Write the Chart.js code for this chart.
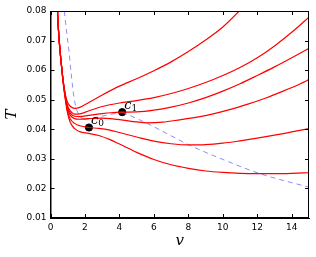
<!DOCTYPE html>
<html lang="en">
<head>
<meta charset="UTF-8">
<title>T(v)</title>
<script src="https://cdn.jsdelivr.net/npm/chart.js@4.4.0/dist/chart.umd.min.js"></script>
<style>
  html,body{margin:0;padding:0;background:#fff;}
  #chart{display:block;}
</style>
</head>
<body>
<canvas id="chart" width="316" height="257"></canvas>
<script>
// red curves
const v1=[0.36,0.42,0.5,0.6,0.7,0.8,0.9,1.0,1.15,1.4,1.7,2.2,3,4,5,6,7,8,9,10,11,11.5];
const t1=[0.088,0.078,0.0705,0.0638,0.0582,0.0538,0.0508,0.049,0.0478,0.0471,0.0474,0.049,0.0516,0.0546,0.0571,0.0598,0.0628,0.0663,0.0702,0.0746,0.0803,0.0835];

const v2=[0.36,0.42,0.5,0.6,0.7,0.8,0.9,1.0,1.15,1.4,1.7,2.2,3,4,5,6,7,8,9,10,11,12,13,14,15];
const t2=[0.088,0.078,0.0705,0.0638,0.0582,0.0536,0.0502,0.0478,0.0462,0.0451,0.0452,0.0462,0.0477,0.0489,0.0497,0.0507,0.0521,0.0538,0.0558,0.0582,0.0609,0.0642,0.0682,0.0728,0.0779];

const v3=[0.36,0.42,0.5,0.6,0.7,0.8,0.9,1.0,1.15,1.4,1.7,2.2,3,3.5,4.16,5,6,7,8,9,10,11,12,13,14,15];
const t3=[0.088,0.078,0.0705,0.0638,0.0581,0.0534,0.0498,0.0472,0.0455,0.0444,0.0443,0.0447,0.0453,0.0456,0.0458,0.0459,0.0465,0.0475,0.0489,0.0507,0.0529,0.0554,0.0582,0.0611,0.0642,0.0674];

const v4=[0.36,0.42,0.5,0.6,0.7,0.8,0.9,1.0,1.15,1.4,1.7,2.2,3,3.5,4.2,5,5.6,6.5,7.5,8.5,9.5,10.5,11.5,12.5,13.5,14.5,15];
const t4=[0.088,0.078,0.0704,0.0637,0.058,0.0532,0.0494,0.0466,0.0447,0.0436,0.0434,0.0436,0.0438,0.0436,0.0431,0.0425,0.0422,0.0424,0.0432,0.0441,0.0453,0.0468,0.0486,0.0506,0.0529,0.0554,0.0568];

const v5=[0.36,0.42,0.5,0.6,0.7,0.8,0.9,1.0,1.15,1.4,1.7,2.23,2.8,3.45,4,5,6,7,8,9,10,11,12,13,14,15];
const t5=[0.088,0.078,0.0703,0.0636,0.0578,0.053,0.049,0.0458,0.0435,0.042,0.0412,0.0406,0.0403,0.0397,0.0389,0.0374,0.036,0.0351,0.0347,0.0348,0.0353,0.0361,0.037,0.038,0.0391,0.0402];

const v6=[0.36,0.42,0.5,0.6,0.7,0.8,0.9,1.0,1.15,1.4,1.7,2.2,2.8,3.45,4,5,6,7,8,9,10,11,12,13,14,15];
const t6=[0.088,0.078,0.0702,0.0634,0.0576,0.0527,0.0485,0.0452,0.0423,0.0402,0.0392,0.0386,0.0379,0.0365,0.035,0.0322,0.0298,0.028,0.0268,0.0259,0.0254,0.0251,0.025,0.025,0.0251,0.0253];

// blue dashed curve, with the two corners where it turns
const dashV=[0.8,0.95,1.07,1.2,1.36,1.5,1.7,1.95,2.5,3.2,4.16,5.5,7,8,10,12.15,15];
const dashT=[0.08,0.0722,0.0665,0.0588,0.0509,0.047,0.0445,0.0433,0.0438,0.0447,0.0458,0.0423,0.0378,0.0348,0.0298,0.025,0.0204];
const dashBreaks=[7,10];

// marked points
const markV=[2.23,4.16];
const markT=[0.0406,0.0458];
const markSub=["0","1"];

const xTicks=[0,2,4,6,8,10,12,14];
const yTicks=[0.01,0.02,0.03,0.04,0.05,0.06,0.07,0.08];

function pts(xs,ys){ return xs.map((x,i)=>({x:x,y:ys[i]})); }

const redSets=[[v1,t1],[v2,t2],[v3,t3],[v4,t4],[v5,t5],[v6,t6]].map(([xs,ys])=>({
  data:pts(xs,ys),
  borderColor:'#ff0000',
  borderWidth:1.2,
  pointRadius:0,
  showLine:true,
  cubicInterpolationMode:'monotone'
}));

const cuts=[0,...dashBreaks,dashV.length-1];
const dashSets=[];
for(let i=0;i<cuts.length-1;i++){
  dashSets.push({
    data:pts(dashV.slice(cuts[i],cuts[i+1]+1),dashT.slice(cuts[i],cuts[i+1]+1)),
    borderColor:'rgba(120,120,255,0.85)',
    borderWidth:1,
    borderDash:[5,4],
    pointRadius:0,
    showLine:true,
    cubicInterpolationMode:'monotone'
  });
}

const markSet={
  data:pts(markV,markT),
  showLine:false,
  pointRadius:3.6,
  pointBackgroundColor:'#000',
  pointBorderColor:'#000'
};

// inward ticks on all four sides, plus the top and right frame
const framePlugin={
  id:'frame',
  afterDatasetsDraw(chart){
    const {ctx,chartArea:a,scales:{x,y}}=chart;
    ctx.save();
    ctx.strokeStyle='#000';
    ctx.lineWidth=1;
    ctx.beginPath();
    for(const t of xTicks){
      const px=Math.round(x.getPixelForValue(t))+0.5;
      ctx.moveTo(px,a.bottom); ctx.lineTo(px,a.bottom-4);
      ctx.moveTo(px,a.top); ctx.lineTo(px,a.top+4);
    }
    for(const t of yTicks){
      const py=Math.round(y.getPixelForValue(t))+0.5;
      ctx.moveTo(a.left,py); ctx.lineTo(a.left+4,py);
      ctx.moveTo(a.right,py); ctx.lineTo(a.right-4,py);
    }
    ctx.stroke();
    ctx.strokeRect(a.left+0.5,a.top+0.5,a.right-a.left-1,a.bottom-a.top-1);

    // c0, c1 labels
    ctx.fillStyle='#000';
    ctx.textBaseline='alphabetic';
    markV.forEach((mv,i)=>{
      const px=x.getPixelForValue(mv), py=y.getPixelForValue(markT[i]);
      ctx.font='italic 13px "DejaVu Serif"';
      ctx.fillText('c',px+2,py-3.5);
      const w=ctx.measureText('c').width;
      ctx.font='9px "DejaVu Serif"';
      ctx.fillText(markSub[i],px+2+w,py-1.5);
    });
    ctx.restore();
  }
};

new Chart(document.getElementById('chart'),{
  type:'scatter',
  data:{datasets:[...redSets,...dashSets,markSet]},
  options:{
    responsive:false,
    animation:false,
    devicePixelRatio:1,
    layout:{padding:{top:11,right:7,left:0,bottom:0}},
    plugins:{legend:{display:false},tooltip:{enabled:false}},
    scales:{
      x:{
        type:'linear',min:0,max:15,
        afterFit(s){ s.height=39; },
        grid:{display:false,drawTicks:false},
        border:{display:true,color:'#000',width:1},
        ticks:{stepSize:2,includeBounds:false,padding:4,color:'#000',font:{family:'DejaVu Sans',size:9}},
        title:{display:true,text:'v',color:'#000',font:{family:'DejaVu Serif',style:'italic',size:15},padding:{top:0,bottom:7}}
      },
      y:{
        type:'linear',min:0.01,max:0.08,
        afterFit(s){ s.width=50.5; },
        grid:{display:false,drawTicks:false},
        border:{display:true,color:'#000',width:1},
        ticks:{stepSize:0.01,includeBounds:false,padding:4,color:'#000',font:{family:'DejaVu Sans',size:9},
          callback:v=>v.toFixed(2)},
        title:{display:true,text:'T',color:'#000',font:{family:'DejaVu Serif',style:'italic',size:15},padding:{top:3,bottom:0}}
      }
    }
  },
  plugins:[framePlugin]
});
</script>
</body>
</html>
